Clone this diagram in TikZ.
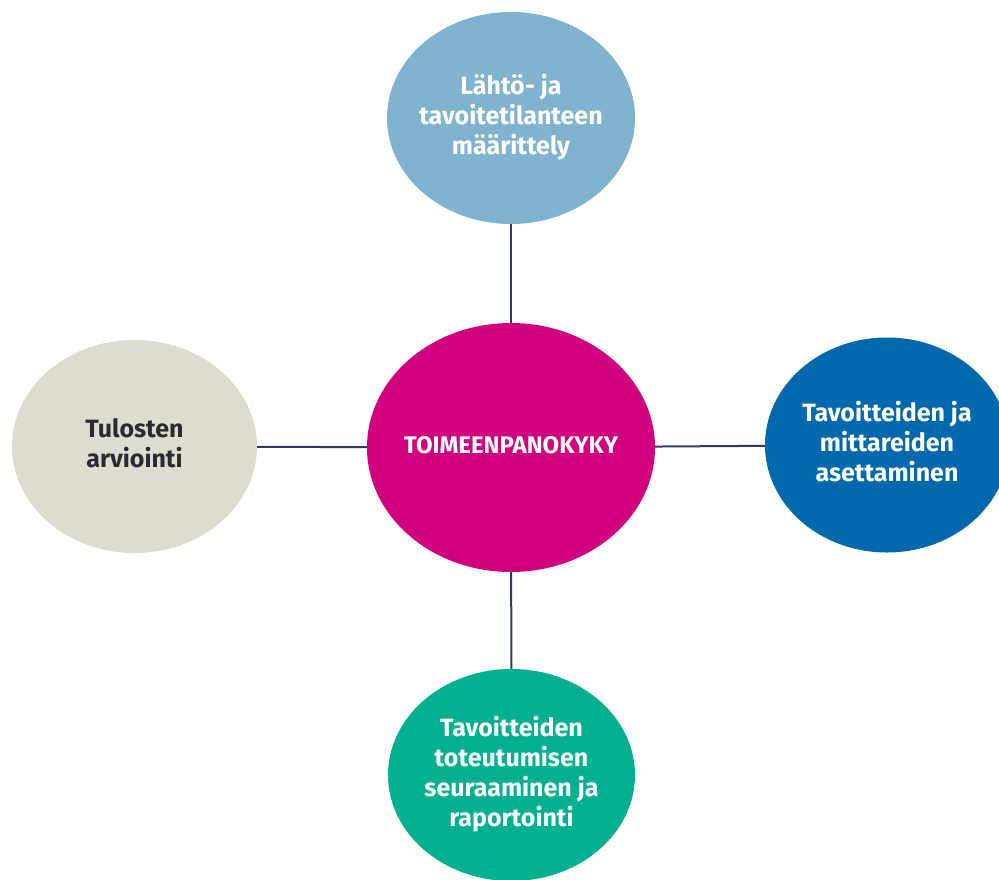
\documentclass[tikz,border=0pt]{standalone}
\usepackage{fontspec}
\setmainfont{Fira Sans}
\usetikzlibrary{shapes.geometric}
\definecolor{ctop}{HTML}{7FB3D0}
\definecolor{cleft}{HTML}{DEDCCE}
\definecolor{cright}{HTML}{0069AD}
\definecolor{ccenter}{HTML}{D0007F}
\definecolor{cbottom}{HTML}{00B08F}
\definecolor{cline}{HTML}{2B3A6B}
\definecolor{cdark}{HTML}{2A2A33}
\newcommand\blobtext[1]{\makebox[0pt]{\begin{tabular}{@{}c@{}}#1\end{tabular}}}
\begin{document}
\begin{tikzpicture}[x=1pt,y=-1pt,
  blob/.style={ellipse,inner sep=0pt,font=\fontsize{25}{30}\selectfont\bfseries,text=white},
  link/.style={draw=cline,line width=2pt}]
\useasboundingbox[fill=white] (0,0) rectangle (999,879);
\node[blob,fill=ctop,minimum width=248pt,minimum height=212pt] (top) at (511,118) {\blobtext{Lähtö- ja\\tavoitetilanteen\\määrittely}};
\node[blob,fill=cleft,text=cdark,minimum width=245pt,minimum height=213pt] (left) at (134.5,446.5) {\blobtext{Tulosten\\arviointi}};
\node[blob,fill=cright,minimum width=244pt,minimum height=215pt] (right) at (887,445) {\blobtext{Tavoitteiden ja\\mittareiden\\asettaminen}};
\node[blob,fill=ccenter,minimum width=288pt,minimum height=249pt,font=\fontsize{24}{28}\selectfont\bfseries] (center) at (511,447.5) {\blobtext{TOIMEENPANOKYKY}};
\node[blob,fill=cbottom,minimum width=247pt,minimum height=212pt] (bottom) at (511.5,775) {\blobtext{Tavoitteiden\\toteutumisen\\seuraaminen ja\\raportointi}};
\draw[link] (center) -- (top);
\draw[link] (center) -- (left);
\draw[link] (center) -- (right);
\draw[link] (center) -- (bottom);
\end{tikzpicture}
\end{document}
